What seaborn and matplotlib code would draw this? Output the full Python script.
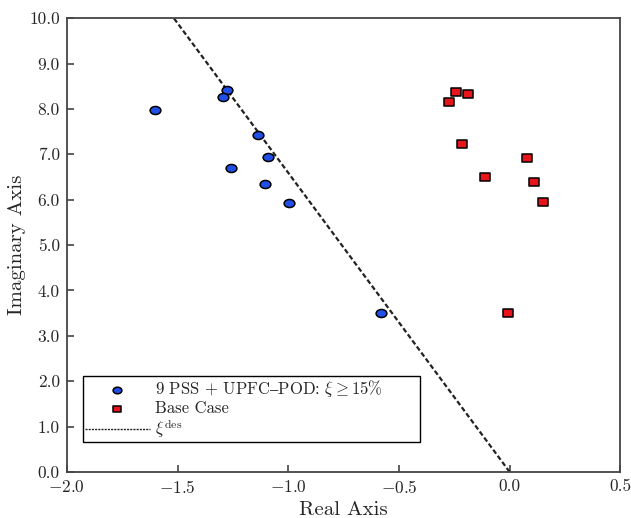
import numpy as np
import pandas as pd
import matplotlib
matplotlib.use("Agg")
import matplotlib.pyplot as plt
import seaborn as sns
from matplotlib.path import Path
from matplotlib.markers import MarkerStyle
from matplotlib.transforms import Affine2D

sns.set_style("white")
plt.rcParams['font.family'] = ['cmr10', 'DejaVu Serif']
plt.rcParams['mathtext.fontset'] = 'cm'
plt.rcParams['axes.formatter.use_mathtext'] = True

# Data
pss_real = [-1.602, -1.277, -1.295, -1.137, -1.091, -1.259, -1.105, -0.996, -0.580]
pss_imag = [7.97, 8.41, 8.26, 7.42, 6.94, 6.70, 6.34, 5.93, 3.50]
base_real = [-0.241, -0.186, -0.273, -0.213, 0.077, -0.110, 0.111, 0.151, -0.006]
base_imag = [8.38, 8.33, 8.15, 7.22, 6.92, 6.50, 6.39, 5.95, 3.51]
xi_real = [0.0, -1.517]
xi_imag = [0.0, 10.0]
xticks = [-2.0, -1.5, -1.0, -0.5, 0.0, 0.5]
yticks = [0.0, 1.0, 2.0, 3.0, 4.0, 5.0, 6.0, 7.0, 8.0, 9.0, 10.0]

pss_df = pd.DataFrame({"Real": pss_real, "Imag": pss_imag})
base_df = pd.DataFrame({"Real": base_real, "Imag": base_imag})
line_df = pd.DataFrame({"Real": xi_real, "Imag": xi_imag})

ellipse = Path.unit_circle().transformed(Affine2D().scale(1.0, 0.75))
rect = Path([(-1, -0.72), (1, -0.72), (1, 0.72), (-1, 0.72), (-1, -0.72)],
            [Path.MOVETO, Path.LINETO, Path.LINETO, Path.LINETO, Path.CLOSEPOLY])

fig = plt.figure(figsize=(6.31, 5.18), dpi=100)
ax = fig.add_axes([0.106, 0.089, 0.877, 0.876])

sns.scatterplot(data=pss_df, x="Real", y="Imag", ax=ax, marker=MarkerStyle(ellipse),
                s=60, color="#1f4fe6", edgecolor="black", linewidth=1.1,
                label="9 PSS + UPFC$\u2013$POD: $\\xi \\geq 15\\%$", zorder=3)
sns.scatterplot(data=base_df, x="Real", y="Imag", ax=ax, marker=MarkerStyle(rect),
                s=55, color="#e8141c", edgecolor="black", linewidth=1.1,
                label="Base Case", zorder=3)
sns.lineplot(data=line_df, x="Real", y="Imag", ax=ax, color="#222222",
             linestyle=(0, (2.2, 1.2)), linewidth=1.6, label=r"$\xi^{\rm des}$",
             sort=False, estimator=None)

ax.set_xlim(-2.0, 0.5)
ax.set_ylim(0.0, 10.0)
ax.set_xticks(xticks)
ax.set_yticks(yticks)
ax.set_xticklabels([r"$-$%.1f" % abs(v) if v < 0 else "%.1f" % v for v in xticks])
ax.set_yticklabels(["%.1f" % v for v in yticks])
ax.tick_params(direction="in", length=5, width=1.2, labelsize=12.5, color="#444444",
               top=False, right=False, bottom=True, left=True, pad=5)
for s in ax.spines.values():
    s.set_color("#444444")
    s.set_linewidth(1.3)
ax.set_xlabel("Real Axis", fontsize=15, labelpad=4)
ax.set_ylabel("Imaginary Axis", fontsize=15, labelpad=2)

leg = ax.legend(loc="lower left", bbox_to_anchor=(0.029, 0.066, 0.609, 0.141),
                mode="expand", fontsize=12,
                frameon=True, fancybox=False, edgecolor="black", framealpha=1,
                borderpad=0.12, labelspacing=0.08, handlelength=3.9,
                handletextpad=0.3, borderaxespad=0)
leg.get_frame().set_linewidth(1.0)
for h in leg.legend_handles:
    if hasattr(h, "set_sizes"):
        h.set_sizes([40])
for ln in leg.get_lines():
    ln.set_linewidth(1.0)
    ln.set_linestyle((0, (1.5, 0.8)))

fig.savefig("out.png", dpi=100)
